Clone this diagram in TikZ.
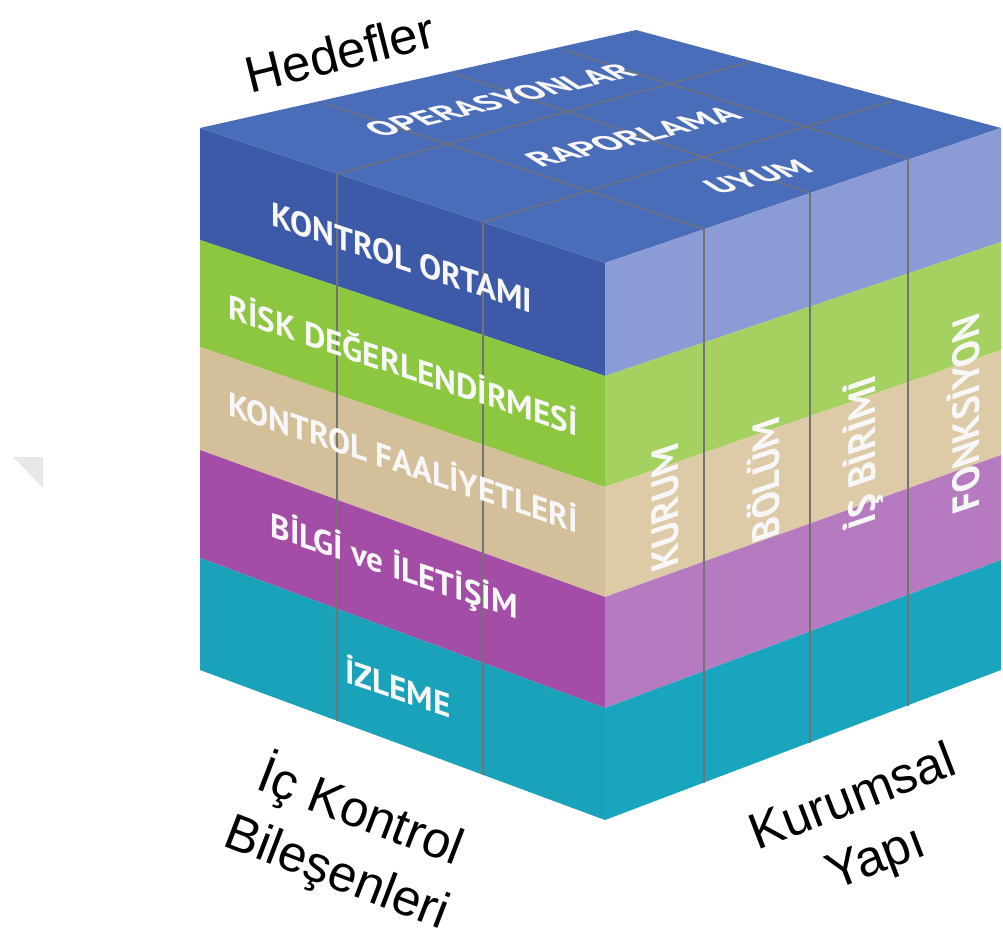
\documentclass[tikz,border=0pt]{standalone}
\usepackage{fontspec}
\setmainfont{Liberation Sans}
\newfontfamily\cubefont{PT Sans}
\usetikzlibrary{calc}
\definecolor{topblue}{HTML}{4A6DB9}
\definecolor{fblue}{HTML}{3C5AA8}
\definecolor{rblue}{HTML}{8A9BD5}
\definecolor{fgreen}{HTML}{8DC63F}
\definecolor{rgreen}{HTML}{A5D160}
\definecolor{ftan}{HTML}{D3C09A}
\definecolor{rtan}{HTML}{DDCBA8}
\definecolor{fpurple}{HTML}{A44DA6}
\definecolor{rpurple}{HTML}{B57ABF}
\definecolor{fteal}{HTML}{19A2BA}
\definecolor{rteal}{HTML}{1AA5BE}

\begin{document}
\begin{tikzpicture}[x=0.01cm, y=-0.01cm,
  gridline/.style={line width=0.35pt, black!55},
  axislabel/.style={font=\fontsize{14.5}{18.4}\selectfont, align=center, inner sep=0pt},
  cubetext/.style={text=white!94!gray, inner sep=0pt, font=\cubefont\bfseries\fontsize{#1}{12}\selectfont},
  frontlabel/.style={cubetext=9.6, cm={0.98,-0.33,0,1,(0,0)}},
  sidelabel/.style={cubetext=10.8, cm={0,1,-1,-0.34,(0,0)}},
  toplabel/.style={cubetext=11, cm={0.95,0.23,-0.7,0.45,(0,0)}}]
\useasboundingbox (0,0) rectangle (1003,939);

% Faint mark on the left
\fill[black!9] (13,457) -- (43,457) -- (43,488) -- cycle;

% Top face (objectives)
\fill[topblue] (200,128) -- (636,30) -- (1001,128) -- (605,263) -- cycle;

% Front face (components)
\foreach \a/\b/\c/\d/\col in {128/263/240/376/fblue, 240/376/347/487/fgreen,
    347/487/450/597/ftan, 450/597/558/708/fpurple, 558/708/670/820/fteal} {
  \fill[\col] (200,\a) -- (605,\b) -- (605,\d) -- (200,\c) -- cycle;
}

% Right face (structure)
\foreach \a/\b/\c/\d/\col in {263/128/376/242/rblue, 376/242/487/350/rgreen,
    487/350/597/455/rtan, 597/455/708/560/rpurple, 708/560/820/670/rteal} {
  \fill[\col] (605,\a) -- (1001,\b) -- (1001,\d) -- (605,\c) -- cycle;
}

% Grid on top face
\foreach \x/\y/\xx/\yy in {337/174/750/62, 483/222/893/101,
    323/103/704/229, 453/73/810/193, 563/50/908/159} {
  \draw[gridline] (\x,\y) -- (\xx,\yy);
}

% Columns on front and right faces
\foreach \x/\yt/\yb in {337/174/721, 483/222/775, 704/229/783, 810/193/743, 908/159/706} {
  \draw[gridline] (\x,\yt) -- (\x,\yb);
}

% Objectives
\node[toplabel] (ops) at (500,100) {OPERASYONLAR};
\node[toplabel] (rap) at (633,137) {RAPORLAMA};
\node[toplabel] (uyum) at (758,177) {UYUM};

% Components
\node[frontlabel] (ortam) at (402,258) {KONTROL ORTAMI};
\node[frontlabel] (risk) at (403,363) {RİSK DEĞERLENDİRMESİ};
\node[frontlabel] (faal) at (403,460) {KONTROL FAALİYETLERİ};
\node[frontlabel] (bilgi) at (394,567) {BİLGİ ve İLETİŞİM};
\node[frontlabel] (izleme) at (398,686) {İZLEME};

% Structure
\node[sidelabel] (kurum) at (665,508) {KURUM};
\node[sidelabel] (bolum) at (763,481) {BÖLÜM};
\node[sidelabel] (birim) at (863,452) {İŞ BİRİMİ};
\node[sidelabel] (fonk) at (963,415) {FONKSİYON};

% Axis titles
\node[axislabel, rotate=14] (hedef) at (340,52) {Hedefler};
\node[axislabel, rotate=-21] (bilesen) at (349,842) {İç Kontrol\\Bileşenleri};
\node[axislabel, rotate=21] (yapi) at (865,830) {Kurumsal\\Yapı};
\end{tikzpicture}
\end{document}
